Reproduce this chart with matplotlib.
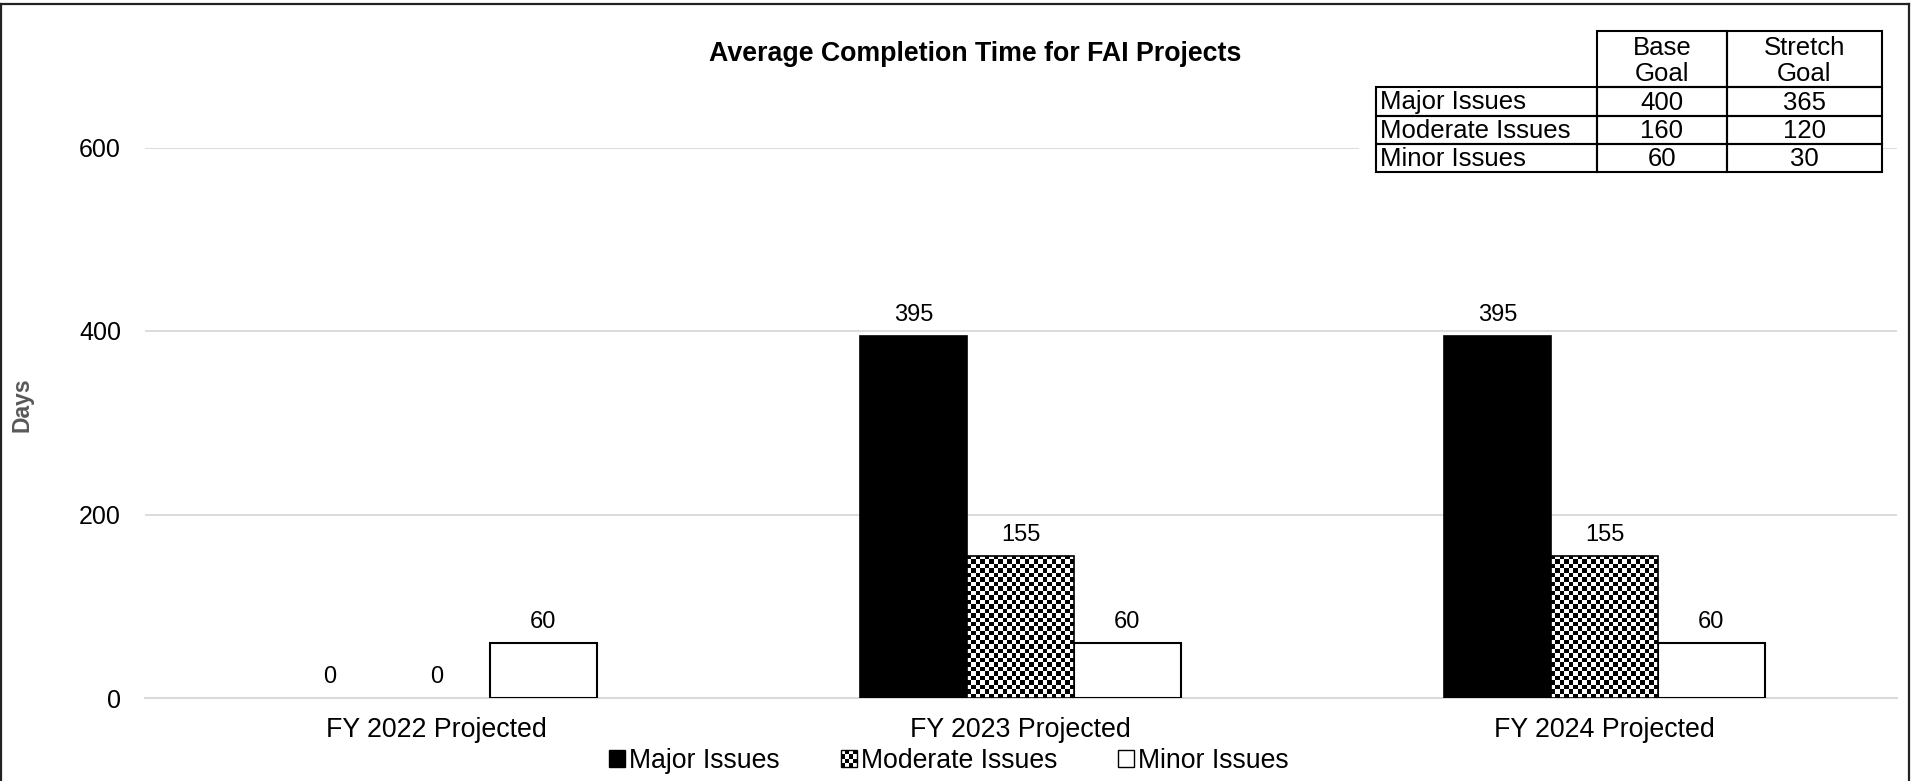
import numpy as np
import matplotlib
matplotlib.use("Agg")
import matplotlib.pyplot as plt
from matplotlib.patches import Rectangle, Patch
from matplotlib.legend_handler import HandlerBase

plt.rcParams['font.family'] = ['Liberation Sans', 'DejaVu Sans']

# data
categories = ["FY 2022 Projected", "FY 2023 Projected", "FY 2024 Projected"]
major = [0, 395, 395]
moderate = [0, 155, 155]
minor = [60, 60, 60]
series_names = ["Major Issues", "Moderate Issues", "Minor Issues"]

goal_rows = ["Major Issues", "Moderate Issues", "Minor Issues"]
goal_cols = ["Base\nGoal", "Stretch\nGoal"]
base_goal = [400, 160, 60]
stretch_goal = [365, 120, 30]

W, H = 1911, 781
fig = plt.figure(figsize=(W / 100, H / 100), dpi=100)
ax = fig.add_axes([144.5 / W, 1 - 698 / H, 1752 / W, 550.5 / H])

x = np.arange(len(categories))
bw = 0.183
grid_c = "#d9d9d9"


def lw_for(vals, lw):
    return [0 if v == 0 else lw for v in vals]


b_major = ax.bar(x - bw, major, bw, color="black", edgecolor="black",
                 linewidth=lw_for(major, 1.2), zorder=3)
b_mod = ax.bar(x, moderate, bw, color="white", edgecolor="black",
               linewidth=lw_for(moderate, 1.2), zorder=3)
b_minor = ax.bar(x + bw, minor, bw, color="white", edgecolor="black",
                 linewidth=lw_for(minor, 1.5), zorder=3)

ax.set_xlim(-0.5, 2.5)
ax.set_ylim(0, 600)
ax.set_yticks([0, 200, 400, 600])
ax.set_xticks(x)
ax.set_xticklabels(categories, fontsize=19.3)
ax.tick_params(axis='y', length=0, pad=17, labelsize=18)
ax.tick_params(axis='x', length=0, pad=14)
ax.yaxis.grid(True, color=grid_c, linewidth=1.3, zorder=0)
ax.set_axisbelow(True)
for s in ["top", "right", "left"]:
    ax.spines[s].set_visible(False)
ax.spines["bottom"].set_color(grid_c)
ax.spines["bottom"].set_linewidth(1.5)

# checker fill for the moderate bars
fig.canvas.draw()
for p in b_mod.patches:
    if p.get_height() <= 0:
        continue
    ext = p.get_window_extent()
    nx = max(int(round(ext.width / 4.5)), 1)
    ny = max(int(round(ext.height / 4.5)), 1)
    chk = (np.indices((ny, nx)).sum(axis=0) % 2).astype(float)
    im = ax.imshow(chk, cmap="gray", interpolation="nearest", aspect="auto",
                   extent=(p.get_x(), p.get_x() + p.get_width(), 0, p.get_height()),
                   zorder=3.5, vmin=0, vmax=1)
    im.set_clip_path(p)
    p.set_facecolor("none")
    p.set_zorder(4)
ax.set_xlim(-0.5, 2.5)
ax.set_ylim(0, 600)

for cont in (b_major, b_mod, b_minor):
    ax.bar_label(cont, padding=7, fontsize=17)

fig.text(22 / W, 1 - 405 / H, "Days", rotation=90, ha="center", va="center",
         fontsize=16.5, fontweight="bold", color="#595959")

fig.text(975 / W, 1 - 54 / H, "Average Completion Time for FAI Projects",
         ha="center", va="center", fontsize=19.3, fontweight="bold")


# legend: one entry per slot, placed like the original
class CheckerHandler(HandlerBase):
    def create_artists(self, legend, orig_handle, xdescent, ydescent,
                       width, height, fontsize, trans):
        x0, y0 = -xdescent, -ydescent
        arts = [Rectangle((x0, y0), width, height, fc="white", ec="black",
                          lw=1.0, transform=trans)]
        n = 4
        cw, ch = width / n, height / n
        for i in range(n):
            for j in range(n):
                if (i + j) % 2 == 0:
                    arts.append(Rectangle((x0 + i * cw, y0 + j * ch), cw, ch,
                                          fc="black", lw=0, transform=trans))
        return arts


h_major = Patch(facecolor="black", edgecolor="black")
h_mod = Patch(facecolor="white", edgecolor="black")
h_minor = Patch(facecolor="white", edgecolor="black", linewidth=1.0)
handles = [h_major, h_mod, h_minor]
slot_x = [609, 841, 1118]
for h, name, sx in zip(handles, series_names, slot_x):
    fig.legend([h], [name], loc="center left",
               bbox_to_anchor=(sx / W, 1 - 761 / H), frameon=False,
               fontsize=19.2, handlelength=0.6, handleheight=0.6,
               handletextpad=0.15, borderpad=0, borderaxespad=0,
               handler_map={h_mod: CheckerHandler()})

# goals table, drawn in pixel units inside its own axes
col_widths = [221, 130, 155]
row_heights = [56, 29, 28, 28]
tw, th = sum(col_widths), sum(row_heights)
margin = 17
tax = fig.add_axes([(1376 - margin) / W, 1 - 172 / H, (tw + margin) / W, th / H])
tax.set_xlim(-margin, tw)
tax.set_ylim(th, 0)
tax.set_facecolor("white")
tax.set_xticks([])
tax.set_yticks([])
for s in tax.spines.values():
    s.set_visible(False)
tax.set_zorder(5)

col_x = np.concatenate([[0], np.cumsum(col_widths)])
row_y = np.concatenate([[0], np.cumsum(row_heights)])
tfs = 18.5
cell_kw = dict(fill=False, edgecolor="black", linewidth=1.5, clip_on=False)

for j, lab in enumerate(goal_cols):
    c = j + 1
    tax.add_patch(Rectangle((col_x[c], row_y[0]), col_widths[c], row_heights[0], **cell_kw))
    tax.text(col_x[c] + col_widths[c] / 2, row_y[0] + row_heights[0] / 2 + 2, lab,
             ha="center", va="center", fontsize=tfs, linespacing=1.1)

for i, lab in enumerate(goal_rows):
    r = i + 1
    vals = [lab, str(base_goal[i]), str(stretch_goal[i])]
    for c in range(3):
        tax.add_patch(Rectangle((col_x[c], row_y[r]), col_widths[c], row_heights[r], **cell_kw))
        yc = row_y[r] + row_heights[r] / 2 + 1
        if c == 0:
            tax.text(col_x[c] + 4, yc, vals[c], ha="left", va="center", fontsize=tfs)
        else:
            tax.text(col_x[c] + col_widths[c] / 2, yc, vals[c], ha="center",
                     va="center", fontsize=tfs)

# outer frame
fc = "#222222"
fig.add_artist(plt.Line2D([1 / W, 1909 / W], [1 - 4 / H, 1 - 4 / H],
                          transform=fig.transFigure, color=fc, lw=1.6))
fig.add_artist(plt.Line2D([1909 / W, 1909 / W], [0, 1 - 4 / H],
                          transform=fig.transFigure, color=fc, lw=1.6))
fig.add_artist(plt.Line2D([1 / W, 1 / W], [0, 1 - 4 / H],
                          transform=fig.transFigure, color=fc, lw=1.6))

fig.savefig("out.png", dpi=100)
